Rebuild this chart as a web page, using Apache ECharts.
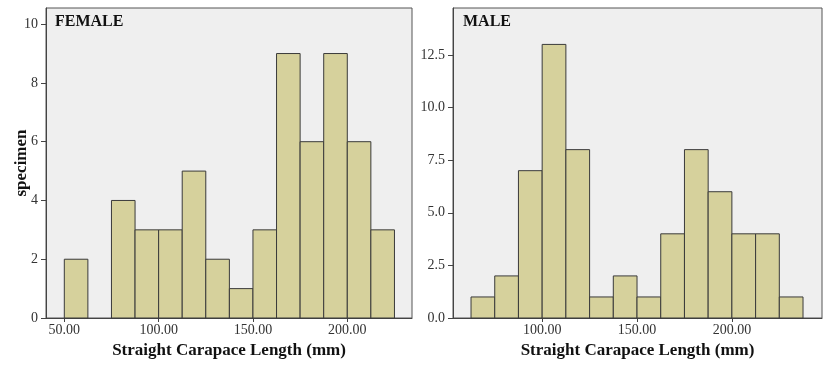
<!DOCTYPE html>
<html>
<head>
<meta charset="utf-8">
<script src="https://cdn.jsdelivr.net/npm/echarts@6/dist/echarts.min.js"></script>
<style>
  html, body { margin: 0; padding: 0; background: #fff; }
  #chart { width: 837px; height: 368px; }
</style>
</head>
<body>
<div id="chart"></div>
<script>
// bin edges are 12.5 mm wide
const binWidth = 12.5
const femaleBinStarts = [50, 62.5, 75, 87.5, 100, 112.5, 125, 137.5, 150, 162.5, 175, 187.5, 200, 212.5]
const femaleCounts = [2, 0, 4, 3, 3, 5, 2, 1, 3, 9, 6, 9, 6, 3]
const maleBinStarts = [62.5, 75, 87.5, 100, 112.5, 125, 137.5, 150, 162.5, 175, 187.5, 200, 212.5, 225]
const maleCounts = [1, 2, 7, 13, 8, 1, 2, 1, 4, 8, 6, 4, 4, 1]

const femaleXTicks = [50, 100, 150, 200]
const maleXTicks = [100, 150, 200]
const femaleYTicks = [0, 2, 4, 6, 8, 10]
const maleYTicks = [0, 2.5, 5, 7.5, 10, 12.5]

const serif = '"Liberation Serif", "DejaVu Serif", serif'
const barFill = '#d6d19c'
const barEdge = '#3a3a3a'

const chart = echarts.init(document.getElementById('chart'))

function bins(starts, counts) {
  return starts.map((s, i) => [s, s + binWidth, counts[i]])
}

function renderBar(params, api) {
  const h = api.value(2)
  if (!h) return null
  const p0 = api.coord([api.value(0), h])
  const p1 = api.coord([api.value(1), 0])
  return {
    type: 'rect',
    shape: { x: p0[0], y: p0[1], width: p1[0] - p0[0], height: p1[1] - p0[1] },
    style: { fill: barFill, stroke: barEdge, lineWidth: 1 },
  }
}

function xAxis(idx, min, max, ticks) {
  return {
    type: 'value',
    gridIndex: idx,
    min, max,
    name: 'Straight Carapace Length (mm)',
    nameLocation: 'middle',
    nameGap: 20,
    nameTextStyle: { fontFamily: serif, fontWeight: 'bold', fontSize: 17, color: '#111' },
    axisLine: { show: true, lineStyle: { color: '#444' } },
    axisTick: { show: true, length: 4, lineStyle: { color: '#444' }, customValues: ticks },
    axisLabel: {
      fontFamily: serif, fontSize: 14, color: '#333', margin: 5,
      customValues: ticks,
      formatter: (v) => v.toFixed(2),
    },
    splitLine: { show: false },
  }
}

function yAxis(idx, max, ticks, fmt, name) {
  return {
    type: 'value',
    gridIndex: idx,
    min: 0, max,
    name,
    nameLocation: 'middle',
    nameGap: 16,
    nameMoveOverlap: false,
    nameTextStyle: { fontFamily: serif, fontWeight: 'bold', fontSize: 17, color: '#111' },
    axisLine: { show: true, lineStyle: { color: '#444' } },
    axisTick: { show: true, length: 5, lineStyle: { color: '#444' }, customValues: ticks },
    axisLabel: {
      fontFamily: serif, fontSize: 14, color: '#333', margin: 8,
      customValues: ticks,
      formatter: fmt,
    },
    splitLine: { show: false },
  }
}

chart.setOption({
  animation: false,
  backgroundColor: '#fff',
  title: [
    { text: 'FEMALE', left: 50, top: 9, textStyle: { fontFamily: serif, fontWeight: 'bold', fontSize: 16, color: '#111' } },
    { text: 'MALE', left: 458, top: 9, textStyle: { fontFamily: serif, fontWeight: 'bold', fontSize: 16, color: '#111' } },
  ],
  grid: [
    { left: 46, top: 8, width: 366, bottom: 50, show: true, backgroundColor: '#efefef', borderColor: '#555', borderWidth: 1 },
    { left: 453, top: 8, right: 15, bottom: 50, show: true, backgroundColor: '#efefef', borderColor: '#555', borderWidth: 1 },
  ],
  xAxis: [
    xAxis(0, 40.3, 234.3, femaleXTicks),
    xAxis(1, 53, 247.5, maleXTicks),
  ],
  yAxis: [
    yAxis(0, 10.55, femaleYTicks, (v) => String(v), 'specimen'),
    yAxis(1, 14.73, maleYTicks, (v) => v.toFixed(1), ''),
  ],
  series: [
    { type: 'custom', xAxisIndex: 0, yAxisIndex: 0, renderItem: renderBar, data: bins(femaleBinStarts, femaleCounts), encode: { x: [0, 1], y: 2 } },
    { type: 'custom', xAxisIndex: 1, yAxisIndex: 1, renderItem: renderBar, data: bins(maleBinStarts, maleCounts), encode: { x: [0, 1], y: 2 } },
  ],
})
</script>
</body>
</html>
